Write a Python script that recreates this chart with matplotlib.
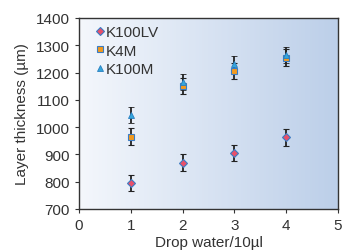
import numpy as np
import matplotlib
matplotlib.use("Agg")
import matplotlib.pyplot as plt
from matplotlib.colors import LinearSegmentedColormap
from matplotlib.lines import Line2D

plt.rcParams['font.family'] = ['Liberation Sans', 'DejaVu Sans']

x = [1, 2, 3, 4]
k100lv = [795, 870, 905, 962]
k4m = [965, 1150, 1205, 1255]
k100m = [1045, 1165, 1230, 1265]
k100lv_err = [30, 30, 30, 30]
k4m_err = [30, 30, 30, 30]
k100m_err = [30, 30, 30, 30]

fig = plt.figure(figsize=(3.42, 2.53), dpi=100)
ax = fig.add_axes([0.231, 0.170, 0.757, 0.755])

cmap = LinearSegmentedColormap.from_list("bg", ["#f4f7fc", "#bccfe9"])
grad = np.linspace(0, 1, 256).reshape(1, -1)
ax.imshow(grad, cmap=cmap, extent=[0, 5, 700, 1400], aspect='auto', zorder=0)

kw = dict(ls='none', ecolor='#222222', elinewidth=1.3, capsize=2.5, capthick=1.3, markersize=4.5, zorder=3)
styles = [('D', '#e8506a', '#3a7cc4', 0.8), ('s', '#f39a1e', '#3a7cc4', 0.8), ('^', '#35a6dc', '#2a7fc0', 0.6)]
labels = ['K100LV', 'K4M', 'K100M']
handles = []
for y, e, (m, fc, ec, mw), lab in zip([k100lv, k4m, k100m], [k100lv_err, k4m_err, k100m_err], styles, labels):
    ax.errorbar(x, y, yerr=e, marker=m, mfc=fc, mec=ec, mew=mw, **kw)
    handles.append(Line2D([], [], ls='none', marker=m, mfc=fc, mec=ec, mew=mw, markersize=4.5, label=lab))

ax.set_xlim(0, 5)
ax.set_ylim(700, 1400)
ax.set_xticks([0, 1, 2, 3, 4, 5])
ax.set_yticks(range(700, 1401, 100))
ax.tick_params(direction='out', length=3, labelsize=11, colors='#333333')
for s in ax.spines.values():
    s.set_color('#333333')
    s.set_linewidth(1.0)
ax.set_xlabel('Drop water/10µl', fontsize=11, color='#333333', labelpad=2)
ax.set_ylabel('Layer thickness (µm)', fontsize=11, color='#333333', labelpad=5)

ax.legend(handles=handles, loc='upper left', bbox_to_anchor=(0.06, 0.97), frameon=False, fontsize=11,
          handlelength=0.5, handletextpad=0.15, labelspacing=0.3, borderaxespad=0.0, borderpad=0.1,
          labelcolor='#333333')

fig.savefig('out.png', dpi=100)
